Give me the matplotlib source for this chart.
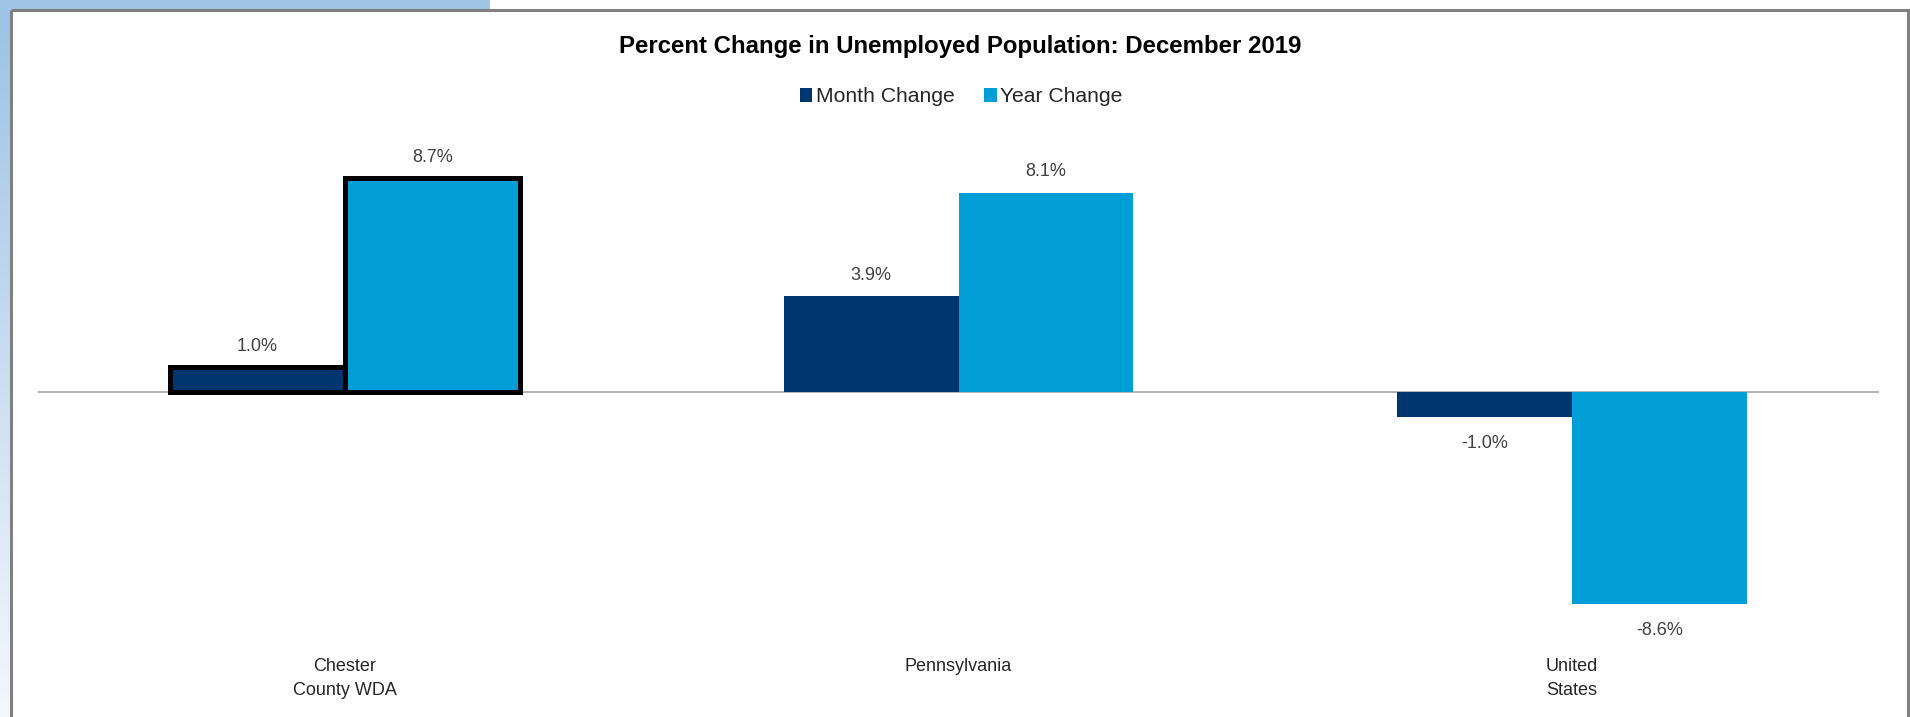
import numpy as np
import matplotlib.pyplot as plt
from matplotlib.patches import Rectangle

plt.rcParams['font.family'] = ['Liberation Sans', 'DejaVu Sans']

regions = ['Chester\nCounty WDA', 'Pennsylvania', 'United\nStates']
month_change = [1.0, 3.9, -1.0]
year_change = [8.7, 8.1, -8.6]
series_names = ['Month Change', 'Year Change']

MONTH_COLOR = '#003670'
YEAR_COLOR = '#009dd6'

W, H, DPI = 1910, 717, 100


def main():
    fig = plt.figure(figsize=(W / DPI, H / DPI), dpi=DPI, facecolor='white')

    # slide background: blue strip on top-left and fading blue on the left edge
    bg = fig.add_axes([0, 0, 1, 1], zorder=-10)
    bg.set_xlim(0, W)
    bg.set_ylim(H, 0)
    bg.axis('off')
    grad = np.linspace(0, 1, 256).reshape(-1, 1)
    top_c = np.array([0.61, 0.76, 0.90])
    bot_c = np.array([0.96, 0.97, 0.99])
    img = top_c + (bot_c - top_c) * grad[..., None]
    bg.imshow(img, extent=(0, 10, H, 0), aspect='auto')
    bg.add_patch(Rectangle((0, 0), 490, 9, color='#a0c4e6', lw=0))
    # chart frame
    bg.add_patch(Rectangle((10.5, 9.5), 1897, 800, fill=False,
                           edgecolor='#808080', lw=2.2))

    # plot area in pixels: x 38..1879, zero line at y=392, 24.6 px per percent
    x0, x1 = 38, 1879
    y_top, y_bot = 130, 640
    zero_px, px_per = 392, 24.6
    ax = fig.add_axes([x0 / W, 1 - y_bot / H, (x1 - x0) / W, (y_bot - y_top) / H])
    ax.set_xlim(-0.5, 2.5)
    ax.set_ylim(-(y_bot - zero_px) / px_per, (zero_px - y_top) / px_per)
    ax.patch.set_alpha(0)
    for s in ax.spines.values():
        s.set_visible(False)
    ax.set_yticks([])

    x = np.arange(len(regions))
    w = 0.285
    ax.axhline(0, color='#a6a6a6', lw=1.2, zorder=1)
    mb = ax.bar(x - w / 2, month_change, w, color=MONTH_COLOR, label=series_names[0],
                lw=0, zorder=2)
    yb = ax.bar(x + w / 2, year_change, w, color=YEAR_COLOR, label=series_names[1],
                lw=0, zorder=2)

    # highlight the local area with a heavy outline
    for b in (mb[0], yb[0]):
        b.set_edgecolor('black')
        b.set_linewidth(3.6)
        b.set_zorder(3)

    for bars, vals in ((mb, month_change), (yb, year_change)):
        for b, v in zip(bars, vals):
            off = 15 if v >= 0 else -19.5
            ax.annotate('%.1f%%' % v, (b.get_x() + b.get_width() / 2, v),
                        xytext=(0, off), textcoords='offset points',
                        ha='center', va='center', fontsize=13, color='#404040')

    ax.set_xticks(x)
    ax.set_xticklabels(regions, fontsize=13, color='#262626', linespacing=1.55)
    ax.tick_params(axis='x', length=0, pad=13)

    fig.text(960 / W, 1 - 47 / H, 'Percent Change in Unemployed Population: December 2019',
             ha='center', va='center', fontsize=17.3, fontweight='bold', color='black')

    leg = fig.legend(handles=[mb, yb], labels=series_names, loc='center',
                     bbox_to_anchor=(961 / W, 1 - 97 / H), ncol=2, frameon=False,
                     fontsize=15.2, handlelength=0.6, handleheight=0.6,
                     handletextpad=0.15, columnspacing=1.4)
    for t in leg.get_texts():
        t.set_color('#262626')
    for h in leg.legend_handles:
        h.set_linewidth(0)

    fig.savefig('out.png', dpi=DPI)


if __name__ == '__main__':
    main()
